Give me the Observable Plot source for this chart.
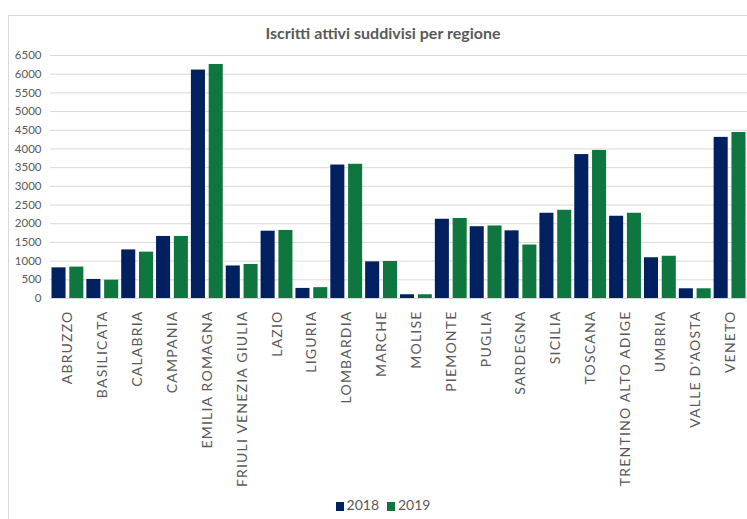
<!DOCTYPE html>
<html>
<head>
<meta charset="utf-8">
<script src="https://cdn.jsdelivr.net/npm/d3@7"></script>
<script src="https://cdn.jsdelivr.net/npm/@observablehq/plot@0.6"></script>
<style>
  html, body { margin: 0; padding: 0; background: #fff; overflow: hidden; width: 747px; height: 519px; }
  body { position: relative; font-family: Lato, "Open Sans", sans-serif; }
  #frame { position: absolute; left: 8px; top: 15px; width: 800px; height: 600px; border: 1px solid #d9d9d9; box-sizing: border-box; }
  #title { position: absolute; left: 0; top: 23px; width: 766px; text-align: center; font-weight: bold; font-size: 16px; color: #595959; }
  #chart { position: absolute; left: 0; top: 0; }
  #chart g.region-axis text { letter-spacing: 1.2px; }
  #legend { position: absolute; left: 0; top: 496px; width: 766px; text-align: center; font-size: 14px; color: #595959; }
  #legend span.item { display: inline-block; margin: 0 4px; }
  #legend span.sw { display: inline-block; width: 8px; height: 9px; margin-right: 3px; vertical-align: -1px; }
</style>
</head>
<body>
<div id="frame"></div>
<div id="title">Iscritti attivi suddivisi per regione</div>
<div id="chart"></div>
<div id="legend"></div>
<script>
// Active members per region, two years
const regions = ["ABRUZZO", "BASILICATA", "CALABRIA", "CAMPANIA", "EMILIA ROMAGNA",
  "FRIULI VENEZIA GIULIA", "LAZIO", "LIGURIA", "LOMBARDIA", "MARCHE", "MOLISE",
  "PIEMONTE", "PUGLIA", "SARDEGNA", "SICILIA", "TOSCANA", "TRENTINO ALTO ADIGE",
  "UMBRIA", "VALLE D'AOSTA", "VENETO"];
const v2018 = [820, 510, 1300, 1660, 6110, 870, 1800, 270, 3570, 980, 100,
  2120, 1920, 1810, 2280, 3850, 2200, 1090, 260, 4310];
const v2019 = [840, 490, 1240, 1660, 6260, 910, 1820, 290, 3590, 990, 100,
  2140, 1940, 1430, 2360, 3960, 2280, 1130, 260, 4440];
const years = ["2018", "2019"];
const colors = ["#002060", "#0e773f"];
const yTicks = d3.range(0, 6501, 500);

const rows2018 = regions.map((r, i) => ({region: r, value: v2018[i]}));
const rows2019 = regions.map((r, i) => ({region: r, value: v2019[i]}));

// each region band holds two side-by-side bars: 2018 on the left, 2019 on the right
const outer = 1.5, inner = 19.3;

const chart = Plot.plot({
  width: 747,
  height: 519,
  marginTop: 55,
  marginBottom: 221,
  marginLeft: 50,
  marginRight: 0,
  style: {fontFamily: "Lato, sans-serif", background: "transparent"},
  x: {domain: regions, padding: 0, round: false, label: null},
  y: {domain: [0, 6500], label: null},
  marks: [
    Plot.gridY({ticks: yTicks, stroke: "#d9d9d9", strokeOpacity: 1, strokeWidth: 1}),
    Plot.barY(rows2018, {x: "region", y: "value", fill: colors[0], insetLeft: outer, insetRight: inner}),
    Plot.barY(rows2019, {x: "region", y: "value", fill: colors[1], insetLeft: inner, insetRight: outer}),
    Plot.axisY({ticks: yTicks, tickSize: 0, tickPadding: 9, fontSize: 11.5, fill: "#595959", label: null, tickFormat: d => String(d)}),
    Plot.axisX({tickRotate: -90, tickSize: 0, tickPadding: 12, fontSize: 14, fill: "#595959", label: null, className: "region-axis"})
  ]
});
document.getElementById("chart").appendChild(chart);

const legend = document.getElementById("legend");
years.forEach((y, i) => {
  const item = document.createElement("span");
  item.className = "item";
  const sw = document.createElement("span");
  sw.className = "sw";
  sw.style.background = colors[i];
  item.appendChild(sw);
  item.appendChild(document.createTextNode(y));
  legend.appendChild(item);
});
</script>
</body>
</html>
